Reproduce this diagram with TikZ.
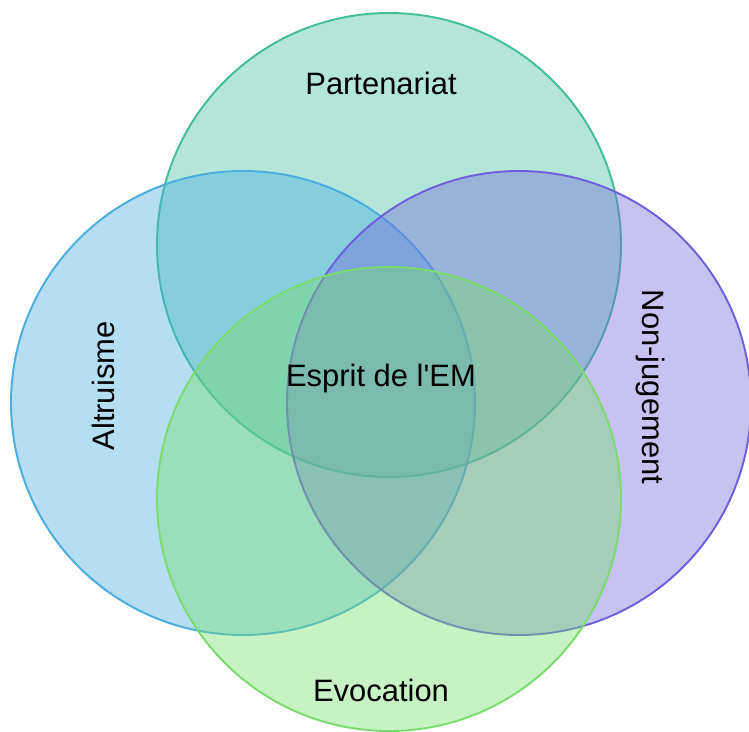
\documentclass[tikz,border=0pt]{standalone}
\usepackage{fontspec}
\setmainfont{Liberation Sans}
\usetikzlibrary{positioning}

\definecolor{partfill}{RGB}{65,190,160}
\definecolor{partline}{RGB}{67,190,150}
\definecolor{altrfill}{RGB}{70,173,225}
\definecolor{altrline}{RGB}{74,172,223}
\definecolor{nonjfill}{RGB}{115,103,218}
\definecolor{nonjline}{RGB}{110,95,219}
\definecolor{evocfill}{RGB}{115,222,105}
\definecolor{evocline}{RGB}{122,219,110}

\tikzset{
  venn/.style={line width=1.1pt, fill opacity=0.4, draw opacity=1},
  lbl/.style={font=\fontsize{17.6}{20}\selectfont, text=black}
}

\begin{document}
\begin{tikzpicture}[x=0.02cm,y=-0.02cm]
		\useasboundingbox (0,0) rectangle (749,732);
		\draw[venn, draw=partline, fill=partfill] (389,245) circle (232);
		\draw[venn, draw=altrline, fill=altrfill] (243,403) circle (232);
		\draw[venn, draw=nonjline, fill=nonjfill] (519,403) circle (232);
		\draw[venn, draw=evocline, fill=evocfill] (389,499) circle (232);
		\node[lbl] (part) at (381,83){Partenariat};
		\node[lbl] (esprit) at (381,379){Esprit de l\textquotesingle EM};
		\node[lbl] (evoc) at (381,690){Evocation};
		\node[lbl, rotate=90] (altr) at (103,386){Altruisme};
		\node[lbl, rotate=-90] (nonj) at (650,387){Non-jugement};
	\end{tikzpicture}
\end{document}
